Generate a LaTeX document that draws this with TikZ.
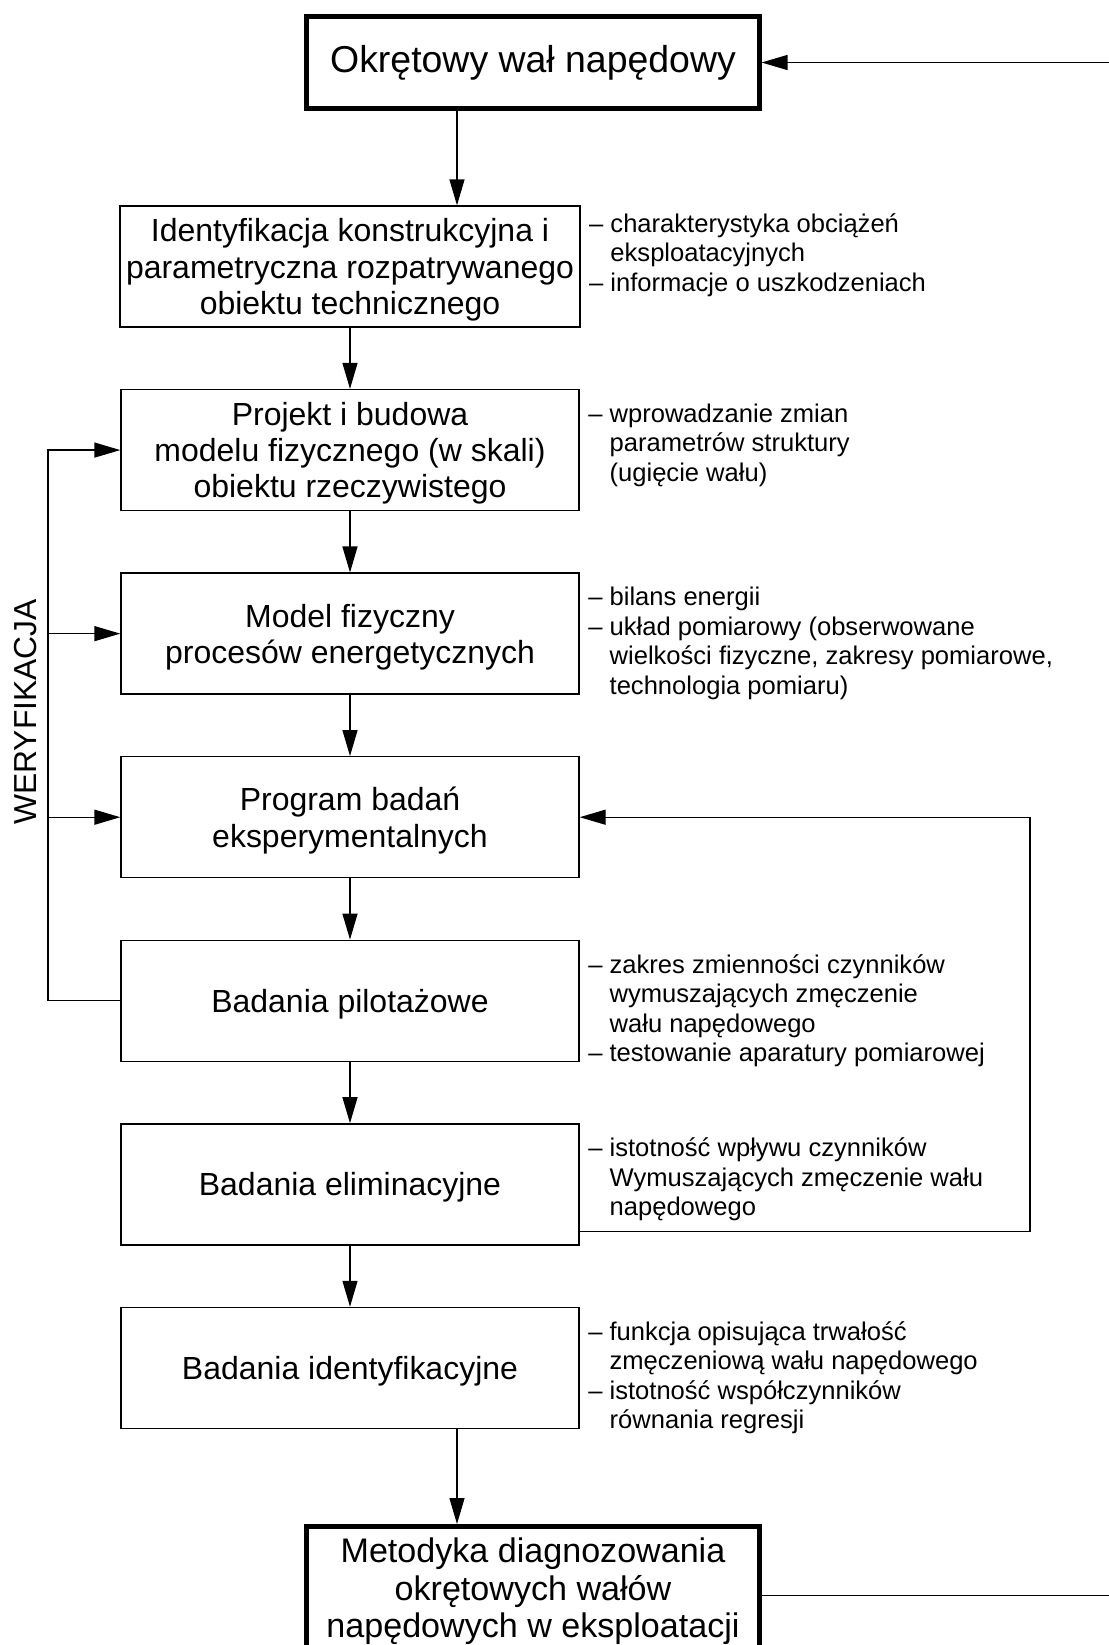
\documentclass[tikz,border=0pt]{standalone}
\usepackage{fontspec}
\setmainfont{Liberation Sans}
\usepackage{tikz}
\usetikzlibrary{positioning}
\usetikzlibrary{arrows.meta}

\begin{document}
\begin{tikzpicture}[
  box/.style = {draw, minimum width = 9.16cm, minimum height = 2.42cm, align = center,
    text depth = 0pt, font = \fontsize{18.2}{20.6}\selectfont},
  mainbox/.style = {draw, line width = 2.6pt, minimum width = 9.05cm, align = center,
    font = \fontsize{21.3}{21.4}\selectfont},
  note/.style = {anchor = north west, inner sep = 0pt, align = left,
    font = \fontsize{14.55}{16.8}\selectfont},
  node distance = 1.225cm,
  line width = 0.75pt,
  >={Triangle[length = 0.52cm, width = 0.3cm]}
]
\clip (0,0) rectangle (22.18,-32.9);

\node[mainbox, minimum height = 1.85cm] (walek) at (10.66,-1.25) {Okrętowy wał napędowy};

\node[box] (ident) at (7.0,-5.33) {Identyfikacja konstrukcyjna i\\parametryczna rozpatrywanego\\obiektu technicznego};
\node[box, below = of ident] (projekt) {Projekt i budowa\\modelu fizycznego (w skali)\\obiektu rzeczywistego};
\node[box, below = of projekt] (model) {Model fizyczny\\procesów energetycznych};
\node[box, below = of model] (program) {Program badań\\eksperymentalnych};
\node[box, below = of program] (pilot) {Badania pilotażowe};
\node[box, below = of pilot] (elimin) {Badania eliminacyjne};
\node[box, below = of elimin] (identyf) {Badania identyfikacyjne};

\node[mainbox, minimum height = 2.6cm, anchor = north, font = \fontsize{19.4}{21.4}\selectfont]
  (metodyka) at (10.66,-30.48) {Metodyka diagnozowania\\okrętowych wałów\\napędowych w eksploatacji};

% uwagi po prawej
\node[note] (n1) at ([xshift=0.16cm, yshift=-0.15cm]ident.north east)
  {– charakterystyka obciążeń\\\hphantom{– }eksploatacyjnych\\– informacje o uszkodzeniach};
\node[note] (n2) at ([xshift=0.16cm, yshift=-0.28cm]projekt.north east)
  {– wprowadzanie zmian\\\hphantom{– }parametrów struktury\\\hphantom{– }(ugięcie wału)};
\node[note] (n3) at ([xshift=0.16cm, yshift=-0.28cm]model.north east)
  {– bilans energii\\– układ pomiarowy (obserwowane\\\hphantom{– }wielkości fizyczne, zakresy pomiarowe,\\\hphantom{– }technologia pomiaru)};
\node[note] (n5) at ([xshift=0.16cm, yshift=-0.28cm]pilot.north east)
  {– zakres zmienności czynników\\\hphantom{– }wymuszających zmęczenie\\\hphantom{– }wału napędowego\\– testowanie aparatury pomiarowej};
\node[note] (n6) at ([xshift=0.16cm, yshift=-0.28cm]elimin.north east)
  {– istotność wpływu czynników\\\hphantom{– }Wymuszających zmęczenie wału\\\hphantom{– }napędowego};
\node[note] (n7) at ([xshift=0.16cm, yshift=-0.28cm]identyf.north east)
  {– funkcja opisująca trwałość\\\hphantom{– }zmęczeniową wału napędowego\\– istotność współczynników\\\hphantom{– }równania regresji};

\node[rotate = 90, font = \fontsize{18.1}{20.6}\selectfont] (weryf) at (0.52,-14.24) {WERYFIKACJA};

% polaczenia
\coordinate (srodek) at (9.14,0);
\coordinate (lewo) at (0.96,0);
\coordinate (petla) at (20.6,0);
\coordinate (prawo) at (22.4,0);
\coordinate (powrot) at ([yshift=0.28cm]elimin.south east);
\coordinate (wyjscie) at ([yshift=-0.08cm]metodyka.east);

\draw[->] (walek.south -| srodek) -- (ident.north -| srodek);
\foreach \a/\b in {ident/projekt, projekt/model, model/program, program/pilot, pilot/elimin, elimin/identyf}
  \draw[->] (\a) -- (\b);
\draw[->] (identyf.south -| srodek) -- (metodyka.north -| srodek);

\draw[->] (pilot.west) -| (lewo |- projekt.west) -- (projekt.west);
\draw[->] (lewo |- model.west) -- (model.west);
\draw[->] (lewo |- program.west) -- (program.west);

\draw[->] (powrot) -| (petla |- program.east) -- (program.east);

\draw[->] (prawo |- walek.east) -- (walek.east);
\draw (wyjscie) -- (prawo |- wyjscie);
\end{tikzpicture}
\end{document}
